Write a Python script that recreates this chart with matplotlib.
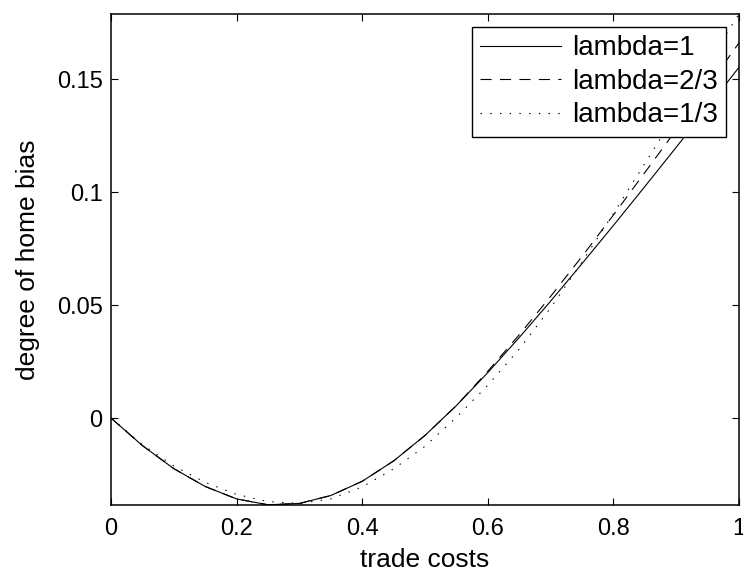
import numpy as np
import matplotlib.pyplot as plt
from matplotlib.ticker import FormatStrFormatter

plt.rcParams['font.family'] = ['Liberation Sans', 'DejaVu Sans']
plt.rcParams['lines.scale_dashes'] = False

# trade costs grid
tc = [0.0, 0.05, 0.1, 0.15, 0.2, 0.25, 0.3, 0.35, 0.4, 0.45, 0.5,
      0.55, 0.6, 0.65, 0.7, 0.75, 0.8, 0.85, 0.9, 0.95, 1.0]

# degree of home bias
bias_l1 = [0.0, -0.0122, -0.0224, -0.0303, -0.0358, -0.0384, -0.0378, -0.0343,
           -0.028, -0.019, -0.0077, 0.0055, 0.0201, 0.0356, 0.0517, 0.0683,
           0.0852, 0.1024, 0.1198, 0.1374, 0.1552]
bias_l23 = [0.0, -0.0122, -0.0224, -0.0303, -0.0358, -0.0384, -0.0378, -0.0343,
            -0.028, -0.019, -0.0077, 0.0055, 0.0207, 0.0368, 0.0538, 0.0715,
            0.0898, 0.1086, 0.1275, 0.1466, 0.166]
bias_l13 = [0.0, -0.0118, -0.0212, -0.0285, -0.0338, -0.037, -0.0378, -0.0358,
            -0.0305, -0.0225, -0.0125, 0.0003, 0.0145, 0.0305, 0.0487, 0.069,
            0.0905, 0.1126, 0.1348, 0.1568, 0.1788]

labels = ['lambda=1', 'lambda=2/3', 'lambda=1/3']

fig = plt.figure(figsize=(7.43, 5.75), dpi=100)
ax = fig.add_axes([0.1494, 0.1217, 0.8452, 0.854])

ax.plot(tc, bias_l1, color='black', lw=0.8, linestyle='-', label=labels[0])
ax.plot(tc, bias_l23, color='black', lw=0.8, dashes=(8, 6), label=labels[1])
ax.plot(tc, bias_l13, color='black', lw=0.8, dashes=(1, 6), label=labels[2])

ax.set_xlim(0, 1)
ax.set_ylim(-0.0385, 0.1788)
ax.set_xticks([0, 0.2, 0.4, 0.6, 0.8, 1])
ax.set_yticks([0, 0.05, 0.1, 0.15])
ax.xaxis.set_major_formatter(FormatStrFormatter('%g'))
ax.yaxis.set_major_formatter(FormatStrFormatter('%g'))
ax.tick_params(direction='in', length=5, width=0.8, top=True, right=True,
               labelsize=17)
ax.tick_params(axis='x', pad=9)
ax.tick_params(axis='y', pad=6)
for s in ax.spines.values():
    s.set_linewidth(1.1)

ax.set_xlabel('trade costs', fontsize=19, labelpad=6)
ax.set_ylabel('degree of home bias', fontsize=19, labelpad=12)

leg = ax.legend(loc='upper right', fontsize=20, frameon=True, fancybox=False,
                edgecolor='black', framealpha=1, handlelength=2.9,
                handletextpad=0.4, labelspacing=0.27, borderpad=0.3,
                borderaxespad=0.47)
leg.get_frame().set_linewidth(1.0)

fig.savefig('out.png', dpi=100)
